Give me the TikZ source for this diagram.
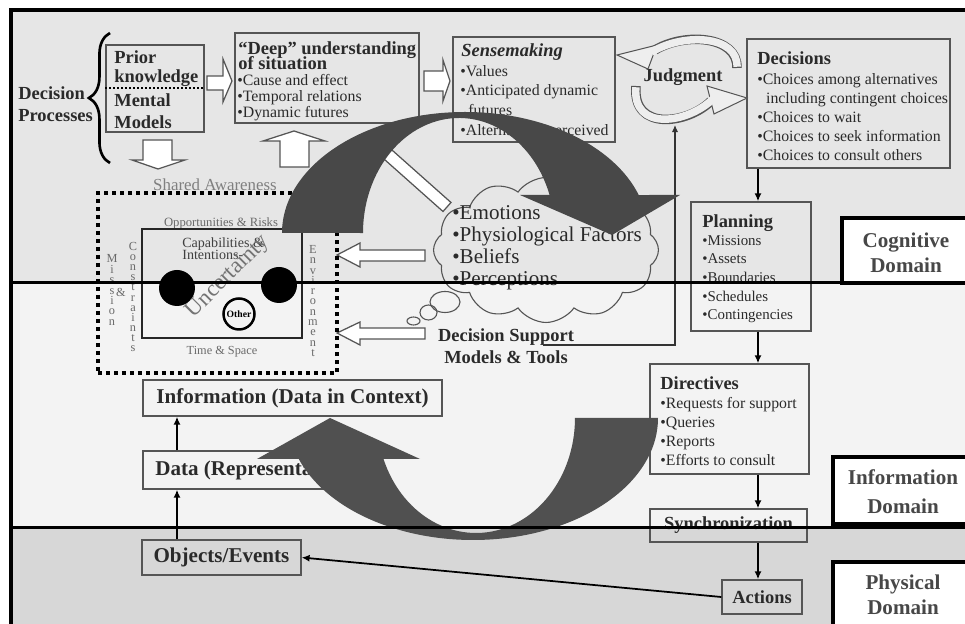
\documentclass[tikz,border=0pt]{standalone}
\usepackage{fontspec}
\setmainfont{Liberation Serif}
\usetikzlibrary{fit,shapes.symbols,decorations.pathreplacing,arrows.meta,calc}
\definecolor{cogbg}{HTML}{E6E6E6}
\definecolor{infbg}{HTML}{F3F3F3}
\definecolor{phybg}{HTML}{D7D7D7}
\definecolor{ink}{HTML}{2A2A2A}
\definecolor{edge}{HTML}{555555}
\definecolor{darkarc}{HTML}{484848}
\definecolor{darkarcb}{HTML}{505050}
\definecolor{palearc}{HTML}{EEEEEE}
\definecolor{faint}{HTML}{6A6A6A}
\newcommand\setfs[2]{\fontsize{#1}{#2}\selectfont\lineskiplimit=-20pt\relax}
\begin{document}
\begin{tikzpicture}[x=0.02cm, y=-0.02cm,
  panel/.style={draw=edge, line width=0.028cm, inner sep=0pt},
  txt/.style={inner sep=0pt, anchor=north west, align=left, text=ink},
  hd/.style={font=\bfseries\setfs{10.5}{11}},
  body/.style={font=\setfs{9}{10.8}},
  link/.style={draw=black, line width=0.035cm, -{Latex[length=4.5pt,width=4pt]}},
  fine/.style={draw=black!80, line width=0.022cm, -{Latex[length=4pt,width=3.5pt]}},
  whitearrow/.style={fill=white, draw=edge, line width=0.025cm, line join=miter},
  domainbox/.style={draw=black, line width=0.08cm, fill=white, inner sep=0pt},
  domaintxt/.style={font=\bfseries\setfs{12}{14.2}, align=center, text=black!72},
  stack/.style={inner sep=0pt, align=center, text=faint, font=\setfs{7}{5.9}},
  cyclepath/.style={line width=0.19cm, draw=edge},
  cyclefill/.style={line width=0.15cm, draw=palearc, shorten <=0.025cm, shorten >=-0.08cm},
  cyclehead/.style={fill=palearc, draw=edge, line width=0.02cm, line join=miter},
]
\useasboundingbox (0,0) rectangle (965,624);

% domain bands
\fill[cogbg] (11,10) rectangle (965,283);
\fill[infbg] (11,283) rectangle (965,528);
\fill[phybg] (11,528) rectangle (965,624);

% ---------------- decision processes ----------------
\node[txt, font=\bfseries\setfs{10.5}{12.5}] (dp) at (18,86) {Decision\\Processes};
\draw[decorate, decoration={brace, amplitude=12pt}, line width=1.5pt] (110,163) -- (110,33);

\node[panel, fit={(106,45) (204,132)}] (prior) {};
\draw[line width=0.04cm, dash pattern=on 0.04cm off 0.04cm] (prior.west) -- (prior.east);
\node[txt, font=\bfseries\setfs{10.5}{11.3}] (priortxt) at (114,50) {Prior\\knowledge};
\node[txt, font=\bfseries\setfs{10.5}{12.5}] (mentaltxt) at (114,93) {Mental\\Models};

\node[panel, fit={(235,33) (419,123)}] (deep) {};
\node[txt, font=\bfseries\setfs{10.5}{8.7}] (deeptitle) at (238,41) {“Deep” understanding\\of situation};
\node[txt, font=\setfs{9}{9}] (deepbody) at (237,74) {•Cause and effect\\•Temporal relations\\•Dynamic futures};

\node[panel, fit={(453,37) (615,142)}] (sense) {};
\node[txt, font=\bfseries\itshape\setfs{10.5}{11}] (sensetitle) at (461,43) {Sensemaking};
\node[txt, font=\setfs{9}{11.2}] (sensebody) at (460,65) {•Values\\•Anticipated dynamic\\\hspace*{4.5pt}futures\\•Alternatives perceived};

\node[font=\bfseries\setfs{10.5}{11}, text=ink] (jdg) at (683,77) {Judgment};

\node[panel, fit={(747,39) (950,168)}] (decisions) {};
\node[txt, hd] (dectitle) at (757,51) {Decisions};
\node[txt, body] (decbody) at (757,73) {•Choices among alternatives\\\hspace*{5pt}including contingent choices\\•Choices to wait\\•Choices to seek information\\•Choices to consult others};

\node[panel, fit={(691,202) (811,331)}] (planning) {};
\node[txt, hd] (plantitle) at (702,214) {Planning};
\node[txt, font=\setfs{8.5}{10.6}] (planbody) at (702,235) {•Missions\\•Assets\\•Boundaries\\•Schedules\\•Contingencies};

\node[panel, fit={(650,364) (809,474)}] (directives) {};
\node[txt, hd] (dirtitle) at (660,376) {Directives};
\node[txt, body] (dirbody) at (660,397) {•Requests for support\\•Queries\\•Reports\\•Efforts to consult};

\node[panel, minimum width=3.14cm, minimum height=0.66cm, hd, text=ink] (sync) at (728.5,525.5) {Synchronization};
\node[panel, minimum width=1.6cm, minimum height=0.68cm, hd, text=ink] (actions) at (762,597) {Actions};

\node[panel, minimum width=5.98cm, minimum height=0.72cm, font=\bfseries\setfs{12}{13}, text=ink] (info) at (292.5,398) {Information (Data in Context)};
\node[panel, minimum width=4.48cm, minimum height=0.76cm, font=\bfseries\setfs{12}{13}, text=ink] (data) at (255,470) {Data (Representation)};
\node[panel, minimum width=3.18cm, minimum height=0.7cm, font=\bfseries\setfs{12}{13}, text=ink] (objects) at (221.5,557.5) {Objects/Events};

% connectors
\coordinate (spine) at (758,0);
\coordinate (lspine) at (177,0);
\draw[link] (decisions.south -| spine) -- (planning.north -| spine);
\draw[link] (planning.south -| spine) -- (directives.north -| spine);
\draw[link] (directives.south -| spine) -- (sync.north -| spine);
\draw[link] (sync.south -| spine) -- (actions.north -| spine);
\draw[link] (objects.north -| lspine) -- (data.south -| lspine);
\draw[link] (data.north -| lspine) -- (info.south -| lspine);
\draw[link] (actions.west) -- (objects.east);

% hollow block arrows
\draw[whitearrow] (207,76) -- (223,76) -- (223,59) -- (232,81) -- (223,102) -- (223,90) -- (207,90) -- cycle;
\draw[whitearrow] (424,71) -- (443,71) -- (443,60) -- (450,81) -- (443,101) -- (443,91) -- (424,91) -- cycle;
\draw[whitearrow] (143,140) -- (172,140) -- (172,160) -- (185,160) -- (158,169) -- (132,160) -- (143,160) -- cycle;
\draw[whitearrow] (280,167) -- (309,167) -- (309,141) -- (325,141) -- (294,131) -- (263,141) -- (280,141) -- cycle;
\draw[whitearrow] (337,255) -- (360,243) -- (360,250) -- (425,250) -- (425,261) -- (360,261) -- (360,267) -- cycle;
\draw[whitearrow] (337,333) -- (360,322) -- (360,328) -- (425,328) -- (425,339) -- (360,339) -- (360,345) -- cycle;

% shared awareness
\node[font=\setfs{9.6}{10}, text=black!50] (shared) at (215,185) {Shared Awareness};
\node[fit={(98,193) (337,373)}, inner sep=0pt, draw=black, line width=0.08cm, dash pattern=on 0.08cm off 0.08cm] (sa) {};
\node[font=\setfs{7.2}{8}, text=faint] (opp) at (221,223) {Opportunities \& Risks};
\node[fit={(142,229) (302,338)}, inner sep=0pt, draw=black!85, line width=0.03cm] (capbox) {};
\node[txt, font=\setfs{8}{6.8}, text=black!75] (capint) at (182,237) {Capabilities \&\\Intentions-};
\node[font=\setfs{7}{8}, text=faint] (ts) at (222,352) {Time \& Space};
\node[stack] (mis) at (112,290) {M\\i\\s\\s\\i\\o\\n};
\node[font=\setfs{7}{8}, text=faint, inner sep=0pt] (amp) at (121,292) {\&};
\node[stack, font=\setfs{7}{5.75}] (con) at (133,297) {C\\o\\n\\s\\t\\r\\a\\i\\n\\t\\s};
\node[stack, font=\setfs{7}{5.85}] (env) at (313,301) {E\\n\\v\\i\\r\\o\\n\\m\\e\\n\\t};
\node[circle, fill=black, minimum size=0.72cm, inner sep=0pt] (ownl) at (177,288) {};
\node[circle, fill=black, minimum size=0.72cm, inner sep=0pt] (ownr) at (279,285) {};
\node[circle, draw=black, line width=0.05cm, minimum size=0.62cm, inner sep=0pt, font=\bfseries\setfs{5.5}{6}] (other) at (239,314) {Other};
\node[rotate=45, font=\setfs{13}{13}, text=black!55, inner sep=0pt] (unc) at (228,277) {Uncertainty};

% thought cloud
\node[cloud, cloud puffs=12, cloud puff arc=110, cloud ignores aspect, minimum width=4.5cm, minimum height=2.9cm, draw=edge, line width=0.022cm, inner sep=0pt] (cloud) at (546,250) {};
\draw[draw=edge, line width=0.022cm] (445,302) ellipse [x radius=15, y radius=10.5];
\draw[draw=edge, line width=0.022cm] (428.5,312.5) ellipse [x radius=8.5, y radius=7.5];
\draw[draw=edge, line width=0.022cm] (413.5,321) ellipse [x radius=6.5, y radius=4];
\node[txt, font=\setfs{12}{12.6}] (cloudtxt) at (452,205) {•Emotions\\•Physiological Factors\\•Beliefs\\•Perceptions};
\node[font=\bfseries\setfs{10.5}{12.8}, align=center, text=ink] (dss) at (506,346) {Decision Support\\Models \& Tools};

\coordinate (dsx) at (543,345);
\coordinate (jbot) at (675,125);
\draw[fine] (dsx) -| (jbot);

% judgment cycle arrows
\draw[cyclepath] (737,68) .. controls (738,36) and (685,32) .. (655,50);
\draw[cyclehead] (657,45) -- (617,55) -- (648,69) -- cycle;
\draw[cyclefill] (737,68) .. controls (738,36) and (685,32) .. (655,50);
\draw[cyclepath] (636,86) .. controls (632,132) and (688,124) .. (711,101);
\draw[cyclehead] (707,86) -- (747,98) -- (714,114) -- cycle;
\draw[cyclefill] (636,86) .. controls (632,132) and (688,124) .. (711,101);

% white bar toward the cloud
\draw[whitearrow] (371,147.5) -- (379,138.5) -- (451,202.5) -- (443,211.5) -- cycle;

% large curved arrows
\fill[darkarc] (282,233) arc[start angle=180, end angle=341.7, x radius=183, y radius=121]
  -- (680,195) -- (612,235) -- (520,195) -- (549.6,195)
  arc[start angle=340.7, end angle=180, x radius=96, y radius=115] -- cycle;
\fill[darkarcb] (658,418) arc[start angle=0, end angle=160.4, x radius=185, y radius=122]
  -- (257,459) -- (330,418) -- (420,459) -- (383.5,459)
  arc[start angle=159.1, end angle=0, x radius=99, y radius=115] -- cycle;

% domain boundaries
\draw[line width=0.06cm] (11,283) -- (970,283);
\draw[line width=0.06cm] (11,528) -- (970,528);

\node[domainbox, fit={(842,218) (985,283)}] (cogbox) {};
\node[domaintxt] (cogtxt) at (906,253) {Cognitive\\Domain};
\node[domainbox, fit={(833,457) (985,524)}] (infbox) {};
\node[domaintxt, font=\bfseries\setfs{12}{16.5}] (inftxt) at (903,492) {Information\\Domain};
\node[domainbox, fit={(833,562) (985,650)}] (phybox) {};
\node[domaintxt] (phytxt) at (903,595) {Physical\\Domain};

% outer frame
\draw[line width=0.08cm] (11,10) rectangle (985,650);
\end{tikzpicture}
\end{document}
